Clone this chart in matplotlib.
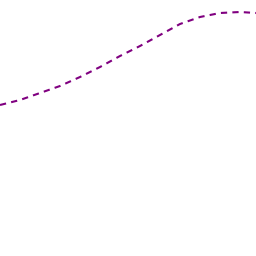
import matplotlib
matplotlib.use("Agg")
import matplotlib.pyplot as plt

x_vals = [0, 20, 40, 60, 80, 100, 120, 140, 160, 180, 200, 220, 240, 256]
y_vals = [151, 156, 163, 170, 179, 189, 200, 210, 221, 232, 239, 243, 244, 243]

fig = plt.figure(figsize=(2.56, 2.56), dpi=100)
ax = fig.add_axes([0, 0, 1, 1])
ax.plot(x_vals, y_vals, color="#800080", lw=1.5, dashes=[3, 2.5])
ax.set_xlim(0, 256)
ax.set_ylim(0, 256)
ax.axis("off")
fig.savefig("out.png", dpi=100)
